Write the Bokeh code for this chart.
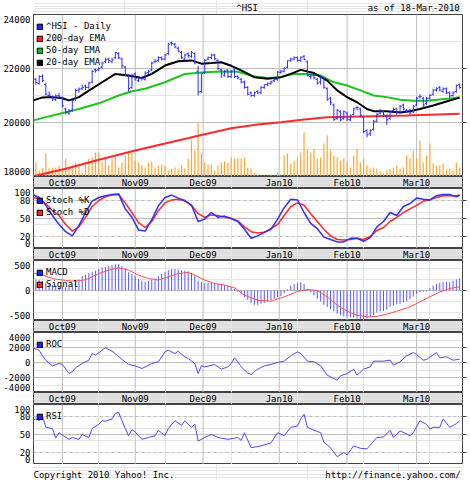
import numpy as np
from bokeh.plotting import figure
from bokeh.layouts import column
from bokeh.models import (Range1d, LinearAxis, FixedTicker, Span, Legend, LegendItem,
                          ColumnDataSource)
from bokeh.embed import file_html
from bokeh.resources import INLINE
from bokeh.core.properties import value

# ---------------------------------------------------------------- data
# one slot per weekday, 18-Sep-2009 .. 18-Mar-2010
days = np.arange(130)
month_pos = [9, 31, 51.5, 74.5, 95, 116]
month_labels = ["Oct09", "Nov09", "Dec09", "Jan10", "Feb10", "Mar10"]

price_open = [
    21550, 21600, 21450, 21720, 21400, 21000, 20950, 20850, 21000, 20900,
    20500, 20350, 20450, 20850, 21200, 21250, 21350, 21300, 21500, 21950,
    21950, 22050, 22250, 22350, 22250, 22400, 22550, 22350, 22050, 21700,
    21300, 21800, 21550, 21650, 21600, 21850, 21950, 22250, 22300, 22400,
    22350, 22550, 22950, 22900, 22750, 22600, 22350, 22550, 22450, 22550,
    21900, 21150, 21850, 22350, 22400, 22500, 22300, 21950, 21750, 21950,
    21700, 21950, 21700, 21600, 21500, 21300, 21100, 21000, 21150, 21100,
    21300, 21400, 21450, 21550, 21600, 21850, 21900, 22050, 22300, 22350,
    22400, 22300, 22450, 22250, 21700, 21750, 21600, 21500, 21650, 21250,
    20900, 20650, 20150, 20400, 20150, 20350, 20100, 20300, 20550, 20500,
    20200, 19700, 19600, 19750, 20050, 20350, 20400, 20250, 20150, 20450,
    20500, 20400, 20650, 20450, 20450, 20400, 20650, 20950, 20900, 20700,
    20900, 21050, 21200, 21300, 21150, 21250, 21100, 21000, 21150, 21400]
price_high = [
    21700, 21650, 21750, 21780, 21450, 21150, 21000, 21050, 21100, 20950,
    20550, 20500, 20850, 21250, 21300, 21400, 21400, 21500, 21950, 22000,
    22050, 22250, 22400, 22400, 22400, 22620, 22600, 22400, 22100, 21750,
    21800, 21850, 21700, 21700, 21900, 21950, 22250, 22350, 22450, 22450,
    22550, 22950, 23000, 22950, 22800, 22650, 22550, 22600, 22650, 22600,
    22100, 21850, 22350, 22450, 22550, 22550, 22350, 22000, 21950, 21950,
    21950, 21980, 21750, 21650, 21550, 21350, 21150, 21150, 21200, 21350,
    21400, 21480, 21550, 21650, 21900, 21950, 22050, 22300, 22400, 22450,
    22450, 22450, 22500, 22300, 21800, 21800, 21650, 21700, 21700, 21300,
    20950, 20700, 20500, 20450, 20450, 20400, 20300, 20550, 20600, 20550,
    20250, 19750, 19750, 20100, 20350, 20500, 20450, 20300, 20450, 20550,
    20550, 20650, 20700, 20500, 20500, 20650, 20950, 21050, 20950, 20950,
    21050, 21250, 21300, 21350, 21300, 21300, 21150, 21150, 21400, 21450]
price_low = [
    21450, 21400, 21400, 21500, 21000, 20950, 20800, 20800, 20900, 20550,
    20300, 20280, 20400, 20800, 21100, 21200, 21200, 21250, 21450, 21850,
    21900, 22000, 22200, 22200, 22200, 22350, 22350, 22000, 21700, 21150,
    21250, 21550, 21500, 21550, 21550, 21800, 21900, 22200, 22250, 22300,
    22300, 22500, 22850, 22750, 22600, 22350, 22300, 22400, 22400, 22150,
    21000, 21100, 21800, 22300, 22350, 22300, 21950, 21650, 21700, 21650,
    21650, 21650, 21600, 21450, 21250, 21000, 20950, 20950, 21050, 21050,
    21250, 21350, 21400, 21500, 21550, 21800, 21850, 22000, 22250, 22300,
    22250, 22250, 22300, 21700, 21600, 21600, 21400, 21400, 21250, 20800,
    20650, 20050, 20100, 20050, 20100, 20050, 20050, 20250, 20450, 20200,
    19600, 19450, 19500, 19700, 20000, 20300, 20200, 19900, 20100, 20400,
    20300, 20350, 20450, 20350, 20300, 20350, 20600, 20900, 20550, 20650,
    20850, 21000, 21150, 21150, 21100, 21050, 20900, 20950, 21100, 21250]
price_close = [
    21620, 21480, 21700, 21560, 21050, 21020, 20870, 20980, 20950, 20620,
    20380, 20430, 20810, 21190, 21240, 21300, 21300, 21470, 21890, 21930,
    22000, 22200, 22320, 22300, 22320, 22590, 22400, 22100, 21760, 21260,
    21750, 21620, 21640, 21630, 21830, 21900, 22200, 22270, 22400, 22350,
    22500, 22900, 22930, 22800, 22640, 22400, 22500, 22480, 22600, 22210,
    21130, 21820, 22300, 22400, 22500, 22360, 22000, 21800, 21900, 21700,
    21900, 21700, 21650, 21500, 21300, 21050, 21000, 21100, 21100, 21300,
    21400, 21450, 21500, 21600, 21870, 21900, 22000, 22280, 22350, 22400,
    22300, 22410, 22330, 21750, 21720, 21650, 21460, 21680, 21300, 20860,
    20730, 20110, 20450, 20100, 20400, 20120, 20240, 20500, 20560, 20270,
    19670, 19550, 19700, 20030, 20300, 20450, 20270, 20100, 20400, 20480,
    20380, 20600, 20500, 20400, 20350, 20600, 20900, 20960, 20650, 20900,
    21000, 21200, 21250, 21200, 21250, 21100, 20980, 21100, 21380, 21300]
volume = [
    1200, 1400, 600, 800, 2300, 800, 900, 900, 1100, 800,
    1800, 900, 1100, 1300, 1100, 400, 1400, 1800, 1900, 2400,
    2400, 1400, 1800, 1100, 1800, 2000, 900, 1400, 2100, 2400,
    2400, 1600, 1400, 1100, 900, 1400, 1500, 900, 1100, 1200,
    1100, 600, 800, 900, 800, 1100, 800, 1800, 3600, 2600,
    5400, 2300, 1400, 1200, 1200, 600, 1100, 1400, 1500, 1400,
    1900, 1800, 1800, 1800, 1900, 900, 800, 400, 200, 100,
    100, 100, 200, 100, 400, 100, 2100, 2300, 1300, 1600,
    1800, 2400, 4400, 2700, 2400, 2800, 1800, 1900, 3300, 4100,
    2600, 2100, 1900, 1600, 1800, 1400, 900, 2100, 2800, 1400,
    1800, 1100, 800, 900, 800, 500, 300, 600, 700, 900,
    1100, 800, 900, 2100, 1800, 2600, 1800, 3600, 1400, 2100,
    3300, 1300, 1100, 1100, 1300, 700, 800, 600, 1400, 900]

ema20_idx = [0, 3, 6, 9, 11, 14, 17, 21, 25, 29, 33, 36, 40, 44, 48, 51, 54, 57, 60, 63,
             67, 71, 75, 78, 81, 85, 89, 92, 95, 98, 101, 103, 107, 111, 114, 117, 121, 125, 129]
ema20 = [20810, 20930, 20940, 20900, 20820, 20940, 21180, 21490, 21800, 21740,
         21650, 21800, 22110, 22270, 22300, 22180, 22200, 22230, 22100, 21930,
         21680, 21620, 21680, 21800, 21950, 21830, 21550, 21190, 20940, 20750,
         20500, 20420, 20420, 20370, 20420, 20500, 20630, 20780, 20920]
ema50_idx = [0, 4, 10, 14, 20, 26, 30, 34, 40, 46, 52, 57, 62, 67, 71, 75, 79, 83, 87, 91,
             95, 99, 103, 107, 111, 115, 119, 123, 127, 129]
ema50 = [20070, 20200, 20380, 20500, 20710, 21000, 21160, 21250, 21490, 21800,
         21860, 21890, 21880, 21700, 21650, 21680, 21800, 21800, 21740, 21490,
         21370, 21190, 21000, 20940, 20840, 20810, 20810, 20850, 20900, 20940]
ema200_idx = [0, 10, 20, 31, 41, 51, 60, 68, 75, 82, 89, 100, 113, 129]
ema200 = [18000, 18290, 18620, 18960, 19250, 19540, 19790, 19930, 20010, 20110,
          20190, 20220, 20260, 20320]

stoch_idx = list(range(0, 130, 2)) + [129]
stoch_k = [90, 85, 72, 55, 40, 28, 21, 38, 60, 79, 85, 88, 90, 91, 66, 52, 31, 29, 48, 71,
           85, 89, 84, 80, 72, 45, 49, 60, 52, 54, 50, 45, 32, 17, 21, 27, 32, 49, 68, 82,
           81, 60, 42, 33, 19, 15, 11, 11, 17, 17, 12, 18, 36, 45, 60, 55, 70, 75, 84, 82,
           81, 88, 90, 90, 86, 89]
stoch_d = [85, 83, 75, 63, 55, 40, 29, 36, 52, 70, 80, 86, 89, 90, 76, 60, 43, 35, 45, 63,
           76, 81, 82, 79, 72, 58, 52, 56, 55, 52, 50, 46, 36, 28, 26, 27, 33, 40, 55, 70,
           76, 72, 58, 45, 32, 21, 15, 14, 15, 17, 15, 20, 30, 35, 45, 52, 60, 66, 72, 79,
           81, 85, 88, 88, 88, 89]

macd = [
    220, 200, 190, 170, 140, 120, 100, 90, 80, 70,
    60, 60, 80, 150, 200, 260, 290, 320, 340, 360,
    390, 420, 430, 450, 465, 475, 480, 440, 400, 330,
    300, 260, 210, 180, 160, 170, 190, 220, 260, 300,
    340, 370, 390, 390, 380, 370, 360, 350, 320, 280,
    180, 150, 130, 140, 150, 140, 120, 110, 100, 90,
    60, 30, -20, -60, -120, -170, -230, -260, -260, -240,
    -220, -200, -180, -150, -120, -100, -50, 20, 90, 120,
    140, 150, 120, 30, -30, -90, -150, -200, -260, -300,
    -340, -380, -420, -450, -470, -480, -490, -500, -510, -520,
    -540, -510, -480, -450, -400, -380, -370, -350, -300, -270,
    -250, -240, -220, -200, -160, -110, -60, -30, -20, -20,
    40, 90, 120, 140, 150, 160, 160, 180, 200, 220]
signal_idx = [0, 3, 6, 9, 12, 15, 17, 20, 23, 26, 29, 32, 35, 38, 41, 44, 47, 49, 52, 55,
              58, 61, 64, 68, 72, 76, 80, 83, 86, 89, 92, 95, 98, 101, 104, 107, 110, 114,
              117, 120, 123, 126, 129]
signal = [320, 280, 218, 190, 170, 180, 218, 309, 370, 412, 369, 278, 218, 190, 249, 309,
          327, 278, 190, 127, 97, 48, -85, -176, -194, -115, -18, 18, 0, -115, -267, -376,
          -448, -478, -470, -430, -376, -297, -206, -115, -24, 36, 70]

roc_idx = [0, 2, 3, 4, 6, 8, 9, 11, 12, 13, 15, 17, 18, 19, 20, 22, 24, 26, 27, 29,
           31, 33, 34, 36, 38, 40, 41, 43, 44, 45, 46, 47, 48, 49, 50, 51, 52, 55, 57, 59,
           60, 61, 62, 63, 64, 65, 66, 67, 68, 70, 72, 74, 76, 78, 80, 81, 83, 85, 87, 89,
           90, 92, 93, 95, 97, 98, 100, 102, 103, 106, 108, 109, 111, 113, 115, 116, 118,
           119, 122, 123, 125, 127, 129]
roc = [1960, 1640, 900, 300, -440, -130, -270, -1470, -1240, -700,
       -130, 310, 1200, 1000, 1300, 1960, 1510, 800, 400, -270,
       -440, -800, -600, -130, 90, 1420, 1640, 1200, 1510, 1100,
       750, 530, 200, -130, -1470, -440, -580, -270, -890, -580,
       -130, 620, 100, -580, -1000, -1400, -1600, -1200, -890, -440,
       -270, 0, 180, 890, 1420, 1200, 180, 90, -440, -1690,
       -1910, -2360, -1780, -1470, -890, -1690, -890, -580, 180, 180,
       310, -360, 90, 890, 1330, 1070, 310, 400, 1330, 620,
       760, 310, 440]

rsi_idx = [0, 1, 2, 3, 4, 6, 7, 8, 9, 11, 12, 14, 15, 17, 18, 20, 21, 22, 24, 25,
           26, 27, 28, 29, 30, 31, 33, 35, 37, 38, 40, 41, 43, 45, 46, 48, 49, 50, 52, 54,
           56, 59, 61, 62, 63, 64, 66, 69, 72, 74, 76, 78, 80, 81, 82, 83, 85, 87, 88, 90,
           92, 94, 95, 97, 99, 101, 104, 106, 108, 109, 111, 114, 115, 117, 119, 120, 121,
           123, 124, 126, 128, 129]
rsi = [74, 76, 73, 81, 62, 60, 44, 53, 49, 42, 45, 42, 50, 45, 60, 67, 73, 72, 76, 85,
       87, 73, 60, 48, 58, 54, 42, 45, 48, 57, 48, 60, 73, 65, 73, 62, 67, 39, 45, 50,
       45, 42, 44, 45, 40, 53, 28, 31, 36, 53, 48, 62, 64, 76, 84, 62, 57, 53, 37, 28,
       13, 20, 16, 31, 27, 26, 45, 46, 57, 45, 56, 48, 53, 73, 67, 59, 62, 62, 76, 62,
       68, 73]

# ---------------------------------------------------------------- style
FONT = "DejaVu Sans Mono"
FS = "9px"
W = 470
LEFT, RIGHT = 31, 8
GRID = "#bdbdbd"
FRAME = "#444444"
BAND = "#dcdcdc"
BLUE = "#2f2fff"
RED = "#ff2a2a"
GREEN = "#1dc41d"

xr = Range1d(0.28, 129.86)


def panel(h, y0, y1):
    p = figure(width=W, height=h, x_range=xr, y_range=Range1d(y0, y1),
               x_axis_location=None, y_axis_location=None, title=None,
               output_backend="svg", toolbar_location=None,
               min_border_left=LEFT, min_border_right=RIGHT,
               min_border_top=0, min_border_bottom=0)
    p.outline_line_color = FRAME
    p.outline_line_width = 1
    p.background_fill_color = "white"
    for m in month_pos:
        p.add_layout(Span(location=m, dimension="height", line_color=GRID,
                          line_width=1, level="underlay"))
    return p


def hlines(p, solid=(), dashed=()):
    for v in solid:
        p.add_layout(Span(location=v, dimension="width", line_color=GRID,
                          line_width=1, level="underlay"))
    for v in dashed:
        p.add_layout(Span(location=v, dimension="width", line_color=GRID,
                          line_width=1, line_dash="3 3", level="underlay"))


def left_labels(p, ticks, labels):
    # tick labels at the panel edges sit a little inside the frame
    ax = LinearAxis(ticker=FixedTicker(ticks=ticks, minor_ticks=[]),
                    major_label_overrides=dict(zip(ticks, labels)),
                    axis_line_color=None, major_tick_line_color=None,
                    minor_tick_line_color=None, major_tick_in=0, major_tick_out=0,
                    major_label_standoff=3, major_label_text_font=FONT,
                    major_label_text_font_size=FS, major_label_text_color="#000000")
    p.add_layout(ax, "left")


def right_ticks(p, ticks):
    ax = LinearAxis(ticker=FixedTicker(ticks=ticks, minor_ticks=[]),
                    major_label_overrides={t: "" for t in ticks},
                    axis_line_color=None, major_tick_line_color=FRAME,
                    minor_tick_line_color=None, major_tick_in=0, major_tick_out=4,
                    major_label_standoff=0, major_label_text_font_size="1px")
    p.add_layout(ax, "right")


def legend(p, entries, frame_h):
    items = []
    for label, color in entries:
        # swatch renderer: a single undrawable box, used only for the legend key
        r = p.quad(left=[np.nan], right=[np.nan], top=[np.nan], bottom=[np.nan],
                   fill_color=color, line_color="#000000", line_width=1)
        items.append(LegendItem(label=label, renderers=[r]))
    lg = Legend(items=items, location=(3, frame_h - 6 - 12 * len(entries)),
                label_text_font=FONT, label_text_font_size=FS,
                label_text_color="#000000", glyph_width=7, glyph_height=7,
                label_height=12, label_standoff=3, spacing=0, padding=0, margin=0,
                background_fill_alpha=0, border_line_alpha=0)
    p.add_layout(lg)


def band():
    p = figure(width=W, height=12, x_range=xr, y_range=Range1d(0, 1),
               x_axis_location=None, y_axis_location=None, title=None,
               output_backend="svg", toolbar_location=None,
               min_border_left=LEFT, min_border_right=RIGHT,
               min_border_top=0, min_border_bottom=0)
    p.background_fill_color = BAND
    p.outline_line_color = FRAME
    p.text(x=month_pos, y=[0.45] * len(month_pos), text=month_labels,
           text_font=value(FONT), text_font_size=FS, text_align="center",
           text_baseline="middle", text_color="#000000")
    return p


def strip(h, texts, ty):
    p = figure(width=W, height=h, x_range=Range1d(0, W), y_range=Range1d(0, 1),
               x_axis_location=None, y_axis_location=None, title=None,
               output_backend="svg", toolbar_location=None, min_border=0)
    p.outline_line_color = None
    for x, t, align in texts:
        p.text(x=[x], y=[ty], text=[t], text_font=value(FONT), text_font_size=FS,
               text_align=align, text_baseline="middle", text_color="#000000")
    return p


src = ColumnDataSource(dict(i=days, i_l=days - 0.5, i_r=days + 0.5,
                            o=price_open, h=price_high, l=price_low, c=price_close,
                            vol=volume, macd=macd))

# ---------------------------------------------------------------- header
head = strip(14, [(234, "^HSI", "center"), (467, "as of 18-Mar-2010", "right")], 0.45)

# ---------------------------------------------------------------- price panel
main = panel(162, 18000, 24000)
main.extra_y_ranges = {"vol": Range1d(0, 16200)}
hlines(main, solid=[22000, 20000])
main.segment(x0="i", y0=0, x1="i", y1="vol", source=src, y_range_name="vol",
             line_color="#ffa733", line_width=1.2)
main.line(ema200_idx, ema200, line_color=RED, line_width=2)
main.line(ema50_idx, ema50, line_color=GREEN, line_width=2)
main.line(ema20_idx, ema20, line_color="#000000", line_width=2)
main.segment(x0="i", y0="l", x1="i", y1="h", source=src, line_color=BLUE, line_width=1)
main.segment(x0="i_l", y0="o", x1="i", y1="o", source=src, line_color=BLUE, line_width=1)
main.segment(x0="i", y0="c", x1="i_r", y1="c", source=src, line_color=BLUE, line_width=1)
left_labels(main, [23800, 22000, 20000, 18180], ["24000", "22000", "20000", "18000"])
right_ticks(main, [22000, 20000])
legend(main, [("^HSI - Daily", "#2020ff"), ("200-day EMA", "#ff2020"),
              ("50-day EMA", "#10c010"), ("20-day EMA", "#000000")], 162)

# ---------------------------------------------------------------- stochastics
sto = panel(60, 0, 100)
hlines(sto, solid=[50], dashed=[80, 20])
sto.line(stoch_idx, stoch_d, line_color=RED, line_width=1.5)
sto.line(stoch_idx, stoch_k, line_color=BLUE, line_width=1.5)
left_labels(sto, [93, 80, 50, 20, 8], ["100", "80", "50", "20", "0"])
right_ticks(sto, [80, 50, 20])
legend(sto, [("Stoch %K", "#2020ff"), ("Stoch %D", "#ff2020")], 60)

# ---------------------------------------------------------------- MACD
mac = panel(60, -545, 545)
hlines(mac, solid=[0])
mac.segment(x0="i", y0=0, x1="i", y1="macd", source=src, line_color="#5a5aff", line_width=1)
mac.line(signal_idx, signal, line_color="#ff5050", line_width=1)
left_labels(mac, [455, 0, -455], ["500", "0", "-500"])
right_ticks(mac, [0])
legend(mac, [("MACD", "#2020ff"), ("Signal", "#ff2020")], 60)

# ---------------------------------------------------------------- ROC
rc = panel(60, -4000, 4000)
hlines(rc, solid=[2000, 0, -2000])
rc.line(roc_idx, roc, line_color="#4a4aff", line_width=1)
left_labels(rc, [3400, 2000, 0, -2000, -3350], ["4000", "2000", "0", "-2000", "-4000"])
right_ticks(rc, [2000, 0, -2000])
legend(rc, [("ROC", "#2020ff")], 60)

# ---------------------------------------------------------------- RSI
rs = panel(60, 0, 100)
hlines(rs, solid=[50], dashed=[80, 20])
rs.line(rsi_idx, rsi, line_color="#4a4aff", line_width=1)
left_labels(rs, [92, 80, 50, 20, 8], ["100", "80", "50", "20", "0"])
right_ticks(rs, [80, 50, 20])
legend(rs, [("RSI", "#2020ff")], 60)

foot = strip(16, [(0, "Copyright 2010 Yahoo! Inc.", "left"),
                  (468, "http://finance.yahoo.com/", "right")], 0.35)

layout = column(head, main, band(), sto, band(), mac, band(), rc, band(), rs, foot,
                spacing=0)

open("out.html", "w").write(file_html(layout, INLINE))
